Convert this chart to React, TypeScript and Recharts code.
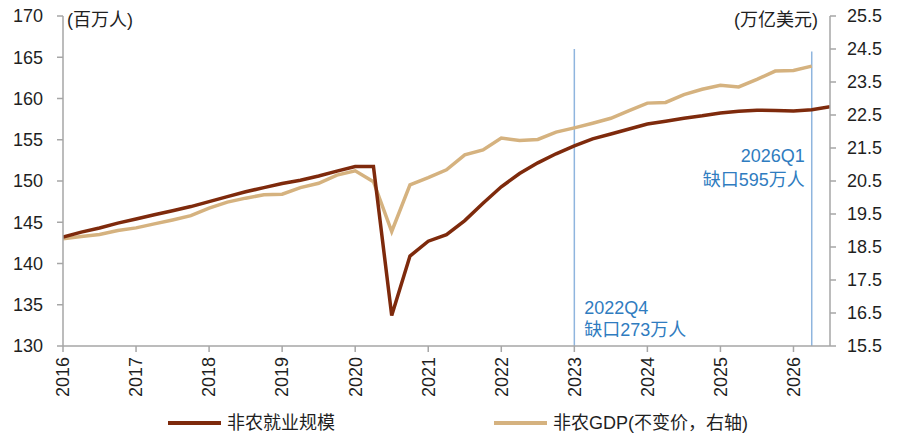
import React from "react";
import { LineChart, Line, XAxis, YAxis, ReferenceLine } from "recharts";

// ---- data ----
const quarters = [
  "2015Q4",
  "2016Q1", "2016Q2", "2016Q3", "2016Q4",
  "2017Q1", "2017Q2", "2017Q3", "2017Q4",
  "2018Q1", "2018Q2", "2018Q3", "2018Q4",
  "2019Q1", "2019Q2", "2019Q3", "2019Q4",
  "2020Q1", "2020Q2", "2020Q3", "2020Q4",
  "2021Q1", "2021Q2", "2021Q3", "2021Q4",
  "2022Q1", "2022Q2", "2022Q3", "2022Q4",
  "2023Q1", "2023Q2", "2023Q3", "2023Q4",
  "2024Q1", "2024Q2", "2024Q3", "2024Q4",
  "2025Q1", "2025Q2", "2025Q3", "2025Q4",
  "2026Q1", "2026Q2",
];

// 非农就业规模 (百万人)
const employment = [
  143.2,
  143.8, 144.3, 144.9, 145.4,
  145.9, 146.4, 146.9, 147.5,
  148.1, 148.7, 149.2, 149.7,
  150.1, 150.6, 151.2, 151.75,
  151.75, 133.7, 140.9, 142.7,
  143.5, 145.2, 147.3, 149.3,
  150.9, 152.2, 153.3, 154.25,
  155.1, 155.7, 156.3, 156.9,
  157.25, 157.6, 157.9, 158.25,
  158.45, 158.58, 158.55, 158.48,
  158.65, 159.0,
];

// 非农GDP (不变价, 万亿美元, 右轴)
const gdp = [
  18.75,
  18.82, 18.88, 19.0, 19.08,
  19.2, 19.32, 19.45, 19.68,
  19.86, 19.98, 20.08, 20.1,
  20.3, 20.43, 20.68, 20.81,
  20.48, 18.97, 20.38, 20.6,
  20.84, 21.29, 21.44, 21.8,
  21.73, 21.76, 21.98, 22.11,
  22.25, 22.4, 22.63, 22.86,
  22.88, 23.12, 23.28, 23.4,
  23.35, 23.58, 23.83, 23.85,
  23.98,
];

const xTicks = [2016, 2017, 2018, 2019, 2020, 2021, 2022, 2023, 2024, 2025, 2026];
const leftTicks = [130, 135, 140, 145, 150, 155, 160, 165, 170];
const rightTicks = [15.5, 16.5, 17.5, 18.5, 19.5, 20.5, 21.5, 22.5, 23.5, 24.5, 25.5];

const seriesNames = ["非农就业规模", "非农GDP(不变价，右轴)"];
const axisTitles = ["(百万人)", "(万亿美元)"];

const markerQuarters = ["2022Q4", "2026Q1"];
const markerTops = [166, 165.7];
const markerTexts = [
  ["2022Q4", "缺口273万人"],
  ["2026Q1", "缺口595万人"],
];

// quarter label -> quarter-end position on the time axis
const qPos = (q: string) => Number(q.slice(0, 4)) + Number(q.slice(5)) / 4;

const data = quarters.map((q, i) => ({
  x: qPos(q),
  emp: employment[i],
  gdp: i < gdp.length ? gdp[i] : null,
}));

const BROWN = "#7e2a0c";
const TAN = "#d5b27f";
const AXIS = "#a6a6a6";
const TEXT = "#1f1f1f";
const BLUE_LINE = "#8fb5de";
const BLUE_TEXT = "#2f7cc0";
const FONT = "'Liberation Sans', Arial, 'Noto Sans CJK SC', sans-serif";
const FS = 18;

const XTick = (props: any) => {
  const { x, y, payload } = props;
  return (
    <g transform={`translate(${x},${y})`}>
      <text
        transform="rotate(-90)"
        x={0}
        y={0}
        dy="0.35em"
        textAnchor="end"
        fill={TEXT}
        fontSize={FS}
        fontFamily={FONT}
      >
        {payload.value}
      </text>
    </g>
  );
};

const AnnoLabel = (props: any) => {
  const { viewBox, lines, side } = props;
  if (!viewBox) return null;
  const { x, y, height } = viewBox;
  if (side === "left") {
    const bottom = y + height;
    return (
      <g>
        <text x={x + 10} y={bottom - 32.5} fill={BLUE_TEXT} fontSize={FS} fontFamily={FONT}>
          {lines[0]}
        </text>
        <text x={x + 10} y={bottom - 10.3} fill={BLUE_TEXT} fontSize={FS} fontFamily={FONT}>
          {lines[1]}
        </text>
      </g>
    );
  }
  return (
    <g>
      <text x={x - 7} y={y + 111} textAnchor="end" fill={BLUE_TEXT} fontSize={FS} fontFamily={FONT}>
        {lines[0]}
      </text>
      <text x={x - 7} y={y + 135} textAnchor="end" fill={BLUE_TEXT} fontSize={FS} fontFamily={FONT}>
        {lines[1]}
      </text>
    </g>
  );
};

export default function App() {
  return (
    <div
      style={{
        position: "absolute",
        left: 0,
        top: 0,
        width: 900,
        height: 438,
        background: "#fff",
        fontFamily: FONT,
      }}
    >
      <LineChart
        width={900}
        height={438}
        data={data}
        margin={{ top: 16, right: 0, bottom: 32, left: 0 }}
      >
        <XAxis
          dataKey="x"
          type="number"
          domain={[2016, 2026.5]}
          ticks={xTicks}
          interval={0}
          allowDataOverflow
          height={60}
          tick={<XTick />}
          tickSize={6}
          tickMargin={5}
          axisLine={{ stroke: AXIS, strokeWidth: 1.5 }}
          tickLine={{ stroke: AXIS, strokeWidth: 1.5 }}
        />
        <YAxis
          yAxisId="left"
          domain={[130, 170]}
          ticks={leftTicks}
          interval={0}
          allowDataOverflow
          width={63}
          tickSize={6}
          tickMargin={14}
          tick={{ fill: TEXT, fontSize: FS, fontFamily: FONT }}
          axisLine={{ stroke: AXIS, strokeWidth: 1.5 }}
          tickLine={{ stroke: AXIS, strokeWidth: 1.5 }}
        />
        <YAxis
          yAxisId="right"
          orientation="right"
          domain={[15.5, 25.5]}
          ticks={rightTicks}
          interval={0}
          allowDataOverflow
          width={70}
          tickSize={6}
          tickMargin={11}
          tickFormatter={(v: number) => v.toFixed(1)}
          tick={{ fill: TEXT, fontSize: FS, fontFamily: FONT }}
          axisLine={{ stroke: AXIS, strokeWidth: 1.5 }}
          tickLine={{ stroke: AXIS, strokeWidth: 1.5 }}
        />
        {markerQuarters.map((q, i) => (
          <ReferenceLine
            key={q}
            yAxisId="left"
            segment={[
              { x: qPos(q), y: markerTops[i] },
              { x: qPos(q), y: 130 },
            ]}
            stroke={BLUE_LINE}
            strokeWidth={1.5}
            ifOverflow="visible"
            label={<AnnoLabel lines={markerTexts[i]} side={i === 0 ? "left" : "right"} />}
          />
        ))}
        <Line
          yAxisId="right"
          type="linear"
          dataKey="gdp"
          stroke={TAN}
          strokeWidth={3.5}
          dot={false}
          activeDot={false}
          isAnimationActive={false}
        />
        <Line
          yAxisId="left"
          type="linear"
          dataKey="emp"
          stroke={BROWN}
          strokeWidth={3.5}
          dot={false}
          activeDot={false}
          isAnimationActive={false}
        />
      </LineChart>

      {/* axis titles */}
      <div
        style={{
          position: "absolute",
          left: 67,
          top: 11,
          fontSize: FS,
          lineHeight: "18px",
          color: TEXT,
          whiteSpace: "nowrap",
        }}
      >
        {axisTitles[0]}
      </div>
      <div
        style={{
          position: "absolute",
          right: 82,
          top: 11,
          fontSize: FS,
          lineHeight: "18px",
          color: TEXT,
          whiteSpace: "nowrap",
        }}
      >
        {axisTitles[1]}
      </div>

      {/* legend */}
      {[
        { color: BROWN, left: 168, name: seriesNames[0] },
        { color: TAN, left: 494, name: seriesNames[1] },
      ].map((l) => (
        <div
          key={l.name}
          style={{
            position: "absolute",
            left: l.left,
            top: 412,
            height: 22,
            display: "flex",
            alignItems: "center",
            whiteSpace: "nowrap",
          }}
        >
          <div style={{ width: 53, height: 4, background: l.color }} />
          <span style={{ marginLeft: 6, fontSize: FS, color: TEXT, lineHeight: "22px" }}>{l.name}</span>
        </div>
      ))}
    </div>
  );
}
